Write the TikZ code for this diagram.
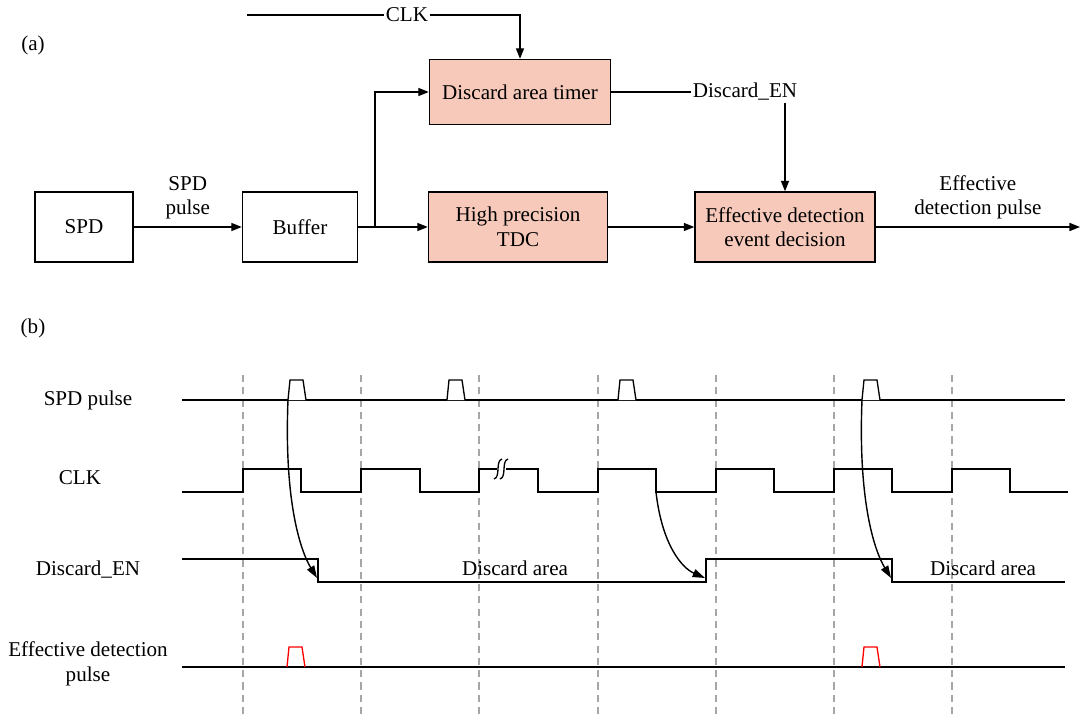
\documentclass[tikz,border=0pt]{standalone}
\usepackage{fontspec}
\setmainfont{Liberation Serif}
\usetikzlibrary{arrows.meta,calc}
\definecolor{dsalmon}{RGB}{247,201,186}
\tikzset{
  dblock/.style={draw,line width=0.8pt,minimum height=1.4cm,align=center,font=\fontsize{12}{14}\selectfont},
  dfill/.style={dblock,fill=dsalmon},
  darr/.style={-{Triangle[length=6pt,width=4.6pt]},line width=0.8pt},
  dline/.style={line width=0.8pt},
  dlab/.style={font=\fontsize{12}{14}\selectfont,align=center,inner sep=1pt},
  dgrid/.style={dashed,gray!70,line width=0.7pt,dash pattern=on 4pt off 3pt},
  dsig/.style={line width=0.75pt},
  dclk/.style={line width=1.1pt},
  dcurve/.style={-{Triangle[length=7pt,width=4.6pt]},line width=0.8pt},
}

\begin{document}
\begin{tikzpicture}[x=0.02cm,y=-0.02cm]
\useasboundingbox (0,0) rectangle (1083,717);
%% (a) block diagram
\node[dlab] at (33,45) {(a)};
\node[dblock,minimum width=1.96cm] (spd) at (84,227) {SPD};
\node[dblock,minimum width=2.3cm] (buf) at (300,227) {Buffer};
\node[dfill,minimum width=3.62cm,minimum height=1.3cm] (timer) at (520,92) {Discard area timer};
\node[dfill,minimum width=3.58cm] (tdc) at (518,227) {High precision\\TDC};
\node[dfill,minimum width=3.6cm] (dec) at (785,227) {Effective detection\\event decision};
\draw[darr] (spd) -- (buf) node[dlab,midway,above=3pt] {SPD\\pulse};
\draw[darr] (buf) -- (tdc);
\coordinate (fork) at (375,227);
\draw[darr] (fork) |- (timer.west);
\draw[darr] (tdc) -- (dec);
\coordinate (out) at (1080,227);
\draw[darr] (dec) -- (out) node[dlab,midway,above=3pt] {Effective\\detection pulse};
% clock into the timer
\node[dlab] (clk) at (407,15) {CLK};
\coordinate (clkin) at (247,15);
\draw[dline] (clkin) -- (clk);
\draw[darr] (clk.east) -| (timer.north);
% timer output down to the decision block
\node[dlab] (den) at (745,92) {Discard\_EN};
\draw[dline] (timer) -- (den);
\draw[darr] (den.south -| dec.north) -- (dec.north);
%% (b) timing diagram
\node[dlab] at (33,328) {(b)};
\node[dlab] (lspd) at (88,400) {SPD pulse};
\node[dlab] (lclk) at (80,478) {CLK};
\node[dlab] (lden) at (88,570) {Discard\_EN};
\node[dlab] (leff) at (88,664) {Effective detection\\pulse};
\foreach \x in {243,361,479,598,716,834,952}
  \draw[dgrid] (\x,375) -- (\x,717);
% SPD pulses
\draw[dsig] (182,400) -- (1065,400);
\foreach \p in {288,447,618,862}
  \draw[dsig,fill=white] (\p,400) -- (\p+2,380) -- (\p+15,380) -- (\p+18,400);
% clock
\draw[dclk] (182,492) \foreach \r/\f in {243/301,361/420,479/538,598/656,716/774,834/892,952/1010}{
  -- (\r,492) -- (\r,469) -- (\f,469) -- (\f,492)} -- (1068,492);
\fill[white] (497,465) rectangle (506,473);
\draw[dsig] (494,479) .. controls (501,477) and (495,461) .. (502,459);
\draw[dsig] (500,479) .. controls (507,477) and (501,461) .. (508,459);
% discard enable
\draw[dsig] (182,559) -- (318,559) -- (318,582) -- (706,582) -- (706,559)
  -- (892,559) -- (892,582) -- (1065,582);
\node[dlab] at (515,568) {Discard area};
\node[dlab] at (983,568) {Discard area};
% causes
\draw[dcurve] (288,400) .. controls (284,500) and (300,550) .. (317,578);
\draw[dcurve] (656,492) .. controls (662,545) and (682,568) .. (705,578);
\draw[dcurve] (862,400) .. controls (858,500) and (874,550) .. (891,578);
% effective detection pulses
\draw[dclk] (182,667) -- (1065,667);
\foreach \p in {287,862}
  \draw[dsig,red] (\p,667) -- (\p+2,647) -- (\p+15,647) -- (\p+18,667);
\end{tikzpicture}
\end{document}
